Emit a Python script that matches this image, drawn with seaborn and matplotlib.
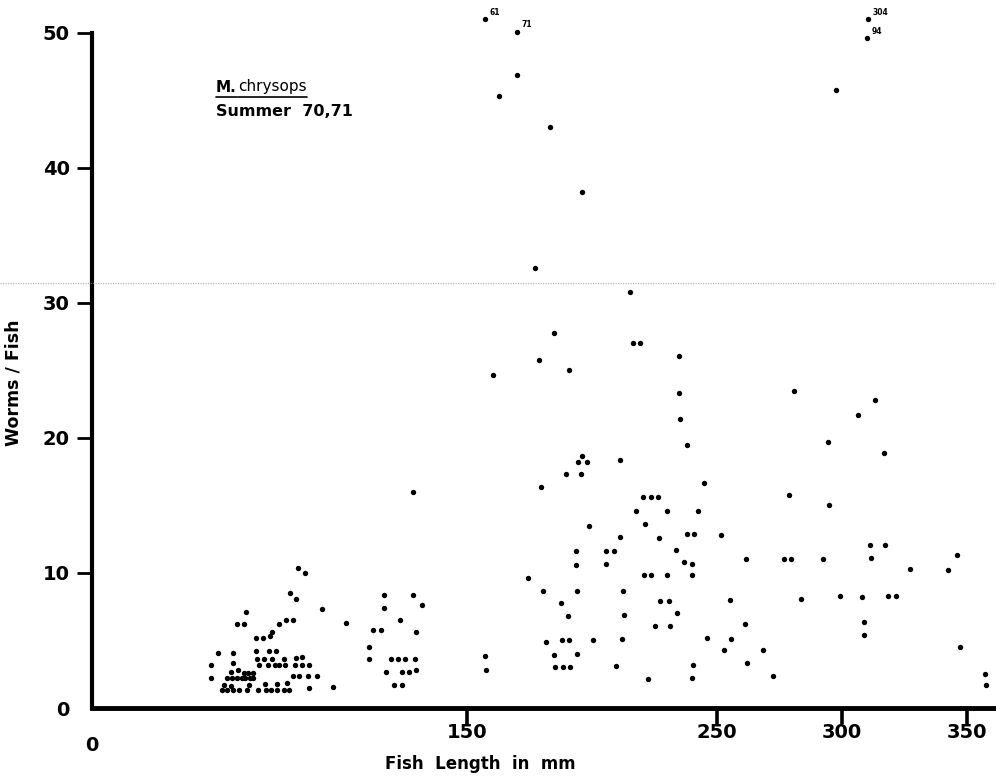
import matplotlib
matplotlib.use("Agg")
import matplotlib.pyplot as plt
import seaborn as sns
import pandas as pd
from matplotlib.lines import Line2D

# ---- data (fish length in mm, worms per fish) ----
small_len = [82.4, 85.2, 79.2, 81.6, 61.6, 92.0,
             58.0, 60.8, 74.8, 77.6, 80.4, 101.6,
             65.6, 68.4, 71.2, 72.0,
             50.4, 56.4, 65.6, 70.8, 73.6,
             47.6, 56.4,
             66.0, 68.8, 72.0, 76.8, 81.6, 84.0,
             66.8, 70.4, 73.2, 74.8, 77.2, 81.2, 84.0, 86.8,
             55.6, 58.4, 60.8, 62.4, 64.4,
             47.6, 54.0, 56.0, 58.0, 60.0, 61.2, 63.2, 64.4,
             80.4, 82.8, 86.4, 90.0,
             52.8, 55.6, 69.2, 74.0, 78.0, 62.8,
             52.0, 54.0, 56.4, 58.8, 62.0, 66.4, 69.6, 71.6, 74.0, 76.8, 78.8,
             86.8, 96.4]
small_worms = [10.4, 10.0, 8.5, 8.1, 7.1, 7.3,
               6.2, 6.2, 6.2, 6.5, 6.5, 6.3,
               5.2, 5.2, 5.3, 5.6,
               4.1, 4.1, 4.2, 4.2, 4.2,
               3.2, 3.3,
               3.6, 3.6, 3.6, 3.6, 3.7, 3.8,
               3.2, 3.2, 3.2, 3.2, 3.2, 3.2, 3.2, 3.2,
               2.7, 2.8, 2.6, 2.6, 2.6,
               2.2, 2.2, 2.2, 2.2, 2.2, 2.2, 2.2, 2.2,
               2.4, 2.4, 2.4, 2.4,
               1.7, 1.6, 1.8, 1.8, 1.85, 1.7,
               1.3, 1.3, 1.3, 1.3, 1.3, 1.3, 1.3, 1.3, 1.3, 1.3, 1.3,
               1.5, 1.55]

mid_small_len = [116.8, 128.4, 116.8, 132.0, 123.2, 112.4, 115.6, 129.6,
                 110.8, 110.8, 119.6, 122.4, 125.2, 129.2, 117.6, 124.0,
                 126.8, 129.6, 120.8, 124.0, 157.2, 157.6, 128.4]
mid_small_worms = [8.4, 8.4, 7.4, 7.6, 6.5, 5.8, 5.8, 5.6,
                   4.5, 3.6, 3.6, 3.6, 3.6, 3.6, 2.7, 2.7,
                   2.7, 2.8, 1.7, 1.7, 3.85, 2.8, 16.0]

medium_len = [170.0, 162.8, 183.2, 196.0, 177.2, 215.2,
              184.8, 216.4, 219.2, 178.8, 190.8, 160.4,
              196.0, 194.4, 198.0, 211.2, 189.6, 195.6, 179.6,
              220.4, 223.6, 226.4, 217.6, 221.2, 198.8, 211.2, 226.8,
              193.6, 205.6, 208.8, 193.6, 205.6, 220.8, 223.6, 174.4,
              180.4, 194.0, 212.4, 227.2, 187.6, 190.4, 212.8, 225.2,
              181.6, 188.0, 190.8, 200.4, 212.0,
              184.8, 194.0, 185.2, 188.4, 191.2, 209.6, 222.4]
medium_worms = [46.9, 45.3, 43.0, 38.2, 32.6, 30.8,
                27.8, 27.0, 27.0, 25.8, 25.0, 24.7,
                18.7, 18.2, 18.2, 18.4, 17.3, 17.3, 16.4,
                15.6, 15.6, 15.6, 14.6, 13.6, 13.5, 12.7, 12.6,
                11.6, 11.6, 11.6, 10.6, 10.7, 9.85, 9.85, 9.6,
                8.7, 8.7, 8.7, 7.9, 7.8, 6.8, 6.9, 6.1,
                4.9, 5.0, 5.0, 5.0, 5.1,
                3.9, 4.0, 3.0, 3.0, 3.0, 3.1, 2.15]

large_len = [234.8, 234.8, 280.8, 235.2, 238.0, 244.8,
             230.0, 242.4, 278.8, 238.0, 240.8, 251.6,
             233.6, 236.8, 240.0, 261.6, 276.8, 279.6,
             230.0, 240.0, 230.8, 255.2, 283.6, 234.0,
             231.2, 261.2, 246.0, 255.6, 252.8, 268.4,
             240.4, 262.0, 272.4, 240.0,
             297.6,
             313.2, 306.4, 294.4, 316.8, 294.8,
             311.2, 317.2, 311.6, 292.4, 327.2,
             342.4, 346.0, 299.2, 308.0, 318.4,
             321.6, 308.8, 308.8, 347.2, 357.2, 357.6]
large_worms = [26.1, 23.3, 23.5, 21.4, 19.5, 16.7,
               14.6, 14.6, 15.8, 12.9, 12.9, 12.8,
               11.7, 10.8, 10.7, 11.0, 11.0, 11.0,
               9.85, 9.85, 7.9, 8.0, 8.1, 7.0,
               6.1, 6.2, 5.2, 5.1, 4.3, 4.3,
               3.2, 3.3, 2.4, 2.2,
               45.8,
               22.8, 21.7, 19.7, 18.9, 15.0,
               12.1, 12.1, 11.1, 11.0, 10.3,
               10.2, 11.3, 8.3, 8.2, 8.3,
               8.3, 6.4, 5.4, 4.5, 2.5, 1.7]

# off-scale fish, drawn at the top edge with their real counts written beside
offscale_len = [157.2, 170.0, 310.4, 310.0]
offscale_plot_worms = [51.0, 50.1, 51.0, 49.6]
offscale_labels = ["61", "71", "304", "94"]

y_ticks = [10, 20, 30, 40, 50]
y_tick_labels = ["10", "20", "30", "40", "50"]
x_ticks = [150, 250, 300, 350]
x_tick_labels = ["150", "250", "300", "350"]
origin_tick = [0]
origin_label = ["0"]

df = pd.DataFrame({
    "length": small_len + mid_small_len + medium_len + large_len + offscale_len,
    "worms": small_worms + mid_small_worms + medium_worms + large_worms + offscale_plot_worms,
})

sns.set_theme(style="white")
plt.rcParams["font.family"] = ["DejaVu Sans"]
plt.rcParams.update({"text.color": "black", "axes.labelcolor": "black",
                     "xtick.color": "black", "ytick.color": "black"})

fig = plt.figure(figsize=(9.96, 7.76), dpi=100)
ax = fig.add_axes([92 / 996, 68 / 776, 904 / 996, 708 / 776])

sns.scatterplot(data=df, x="length", y="worms", color="black", s=15,
                linewidth=0, ax=ax, legend=False, clip_on=False, zorder=3)

for xv, yv, lab in zip(offscale_len, offscale_plot_worms, offscale_labels):
    ax.annotate(lab, (xv, yv), xytext=(3.5, 5), textcoords="offset points",
                ha="left", va="center", fontsize=5.5, fontweight="bold",
                color="black")

ax.set_xlim(0, 361.6)
ax.set_ylim(0, 52.44)
ax.spines["top"].set_visible(False)
ax.spines["right"].set_visible(False)
ax.spines["left"].set_linewidth(3.0)
ax.spines["bottom"].set_linewidth(3.5)
ax.spines["left"].set_bounds(0, 50)
ax.spines["left"].set_color("black")
ax.spines["bottom"].set_color("black")

ax.set_yticks(y_ticks)
ax.set_yticklabels(y_tick_labels, fontsize=14, fontweight="bold", color="black")
ax.set_xticks(x_ticks)
ax.set_xticklabels(x_tick_labels, fontsize=14, fontweight="bold", color="black")
ax.set_yticks(origin_tick, minor=True)
ax.set_yticklabels(origin_label, minor=True, fontsize=14, fontweight="bold", color="black")
ax.set_xticks(origin_tick, minor=True)
ax.set_xticklabels(origin_label, minor=True, fontsize=14, fontweight="bold", color="black")

ax.tick_params(axis="y", which="major", length=0, pad=16)
ax.tick_params(axis="x", which="major", length=0, pad=11)
ax.tick_params(axis="y", which="minor", length=0, pad=16)
ax.tick_params(axis="x", which="minor", length=0, pad=20)

# tick strokes drawn on the figure, positioned from the axis transforms
fig.canvas.draw()
to_fig = fig.transFigure.inverted()
ax_px = ax.get_window_extent()
for yv in y_ticks:
    _, ypx = ax.transData.transform((0, yv))
    (fx0, fy), = to_fig.transform([(ax_px.x0 - 15, ypx)])
    (fx1, _), = to_fig.transform([(ax_px.x0, ypx)])
    fig.add_artist(Line2D([fx0, fx1], [fy, fy], transform=fig.transFigure,
                          color="black", lw=2.0, solid_capstyle="butt", zorder=10))
for xv in x_ticks:
    xpx, _ = ax.transData.transform((xv, 0))
    (fx, fy0), = to_fig.transform([(xpx, ax_px.y0 - 16)])
    (_, fy1), = to_fig.transform([(xpx, ax_px.y0)])
    fig.add_artist(Line2D([fx, fx], [fy0, fy1], transform=fig.transFigure,
                          color="black", lw=2.6, solid_capstyle="butt", zorder=10))

ax.set_ylabel("Worms / Fish", fontsize=12.5, fontweight="bold", color="black")
ax.yaxis.set_label_coords(-0.077, 0.46)
ax.set_xlabel("Fish  Length  in  mm", fontsize=12, fontweight="bold", color="black")
ax.xaxis.set_label_coords(0.43, -0.066)

t1 = fig.text(216 / 996, 1 - 87 / 776, "M.", fontsize=11, fontweight="bold",
              ha="left", va="center", color="black")
t2 = fig.text(238 / 996, 1 - 87 / 776, "chrysops", fontsize=11,
              ha="left", va="center", color="black")
fig.text(216 / 996, 1 - 112 / 776, "Summer  70,71", fontsize=11.5,
         fontweight="bold", ha="left", va="center", color="black")

fig.canvas.draw()
for t in (t1, t2):
    bb = t.get_window_extent().transformed(fig.transFigure.inverted())
    fig.add_artist(Line2D([bb.x0, bb.x1], [bb.y0 - 0.003, bb.y0 - 0.003],
                          transform=fig.transFigure, color="black", lw=1.2))

# faint scanner line across the page
fig.add_artist(Line2D([0, 1], [1 - 283 / 776, 1 - 283 / 776],
                      transform=fig.transFigure, color="#9a9a9a", lw=0.9,
                      ls=(0, (1, 1)), alpha=0.7))

fig.savefig("out.png", dpi=100)
